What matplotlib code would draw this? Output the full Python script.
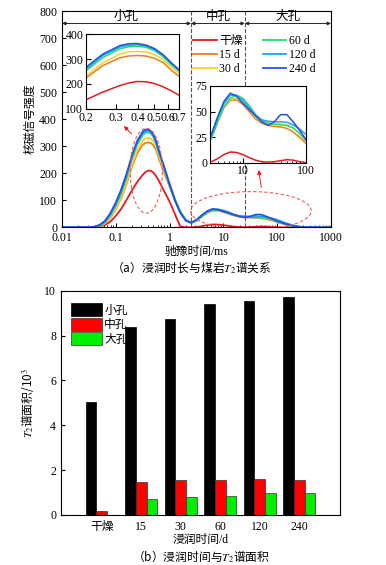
import numpy as np
import matplotlib
matplotlib.use('Agg')
import matplotlib.pyplot as plt
from matplotlib.ticker import NullFormatter, FixedLocator

plt.rcParams['font.family'] = ['Liberation Serif', 'Noto Sans CJK SC']
plt.rcParams['mathtext.fontset'] = 'stix'
plt.rcParams['font.size'] = 8.5
plt.rcParams['axes.linewidth'] = 0.8

# ---- (a) T2 spectra ----
t2_ms = [0.01, 0.032, 0.04, 0.05, 0.063, 0.079, 0.1, 0.126, 0.158, 0.2,
         0.251, 0.316, 0.355, 0.398, 0.447, 0.501, 0.562, 0.631, 0.794, 1.0,
         1.26, 1.58, 2.0, 2.51, 3.16, 3.98, 5.01, 6.31, 7.94, 10.0,
         12.6, 15.8, 20.0, 25.1, 31.6, 39.8, 50.1, 63.1, 79.4, 100,
         126, 158, 200, 251, 316, 398, 1000]

amp_dry = [0, 0, 0, 3, 9, 21, 42, 68, 101, 137,
           168, 194, 204, 210, 209, 202, 189, 172, 133, 95,
           48, 3, 0, 0, 1, 4, 8, 10.5, 10, 8,
           5, 2.5, 1, 0.5, 1, 2, 3, 2.5, 1, 0,
           0, 0, 0, 0, 0, 0, 0]
amp_15d = [0, 0, 1, 5, 14, 35, 67, 108, 160, 224,
           274, 305, 312, 314, 312, 303, 286, 254, 202, 150,
           97, 54, 26, 16, 24, 40, 54, 61, 61.5, 57,
           50, 43, 38.5, 36.5, 35.5, 35, 33.5, 30, 25, 19,
           13, 8, 4, 1.5, 0.5, 0, 0]
amp_30d = [0, 0, 1, 5, 15, 37, 70, 113, 166, 231,
           285, 320, 329, 331, 328, 318, 299, 266, 212, 156,
           101, 56, 27, 16, 25, 41, 55, 62, 63, 59,
           52, 45, 41, 39, 38.5, 38, 37, 34, 28, 21,
           14, 8, 4, 1.5, 0.5, 0, 0]
amp_60d = [0, 0, 1, 6, 18, 43, 80, 126, 183, 253,
           306, 341, 349, 351, 347, 334, 310, 276, 220, 161,
           103, 58, 28, 17, 24, 40, 55, 63, 66, 63,
           56, 47, 41, 38.5, 37.5, 37, 36.5, 34, 29, 22,
           15, 9, 5, 2, 0.5, 0, 0]
amp_120d = [0, 0, 1, 7, 20, 47, 85, 132, 190, 260,
            314, 348, 355, 357, 352, 338, 315, 282, 222, 159,
            101, 56, 27, 17, 26, 44, 58, 66, 66, 61,
            54, 47, 42, 40.5, 40, 40, 39.5, 37, 33, 28,
            20, 13, 7, 3, 1, 0, 0]
amp_240d = [0, 0, 2, 9, 24, 52, 92, 140, 197, 267,
            320, 354, 361, 362, 356, 342, 318, 284, 222, 158,
            99, 54, 24, 17, 28, 45, 60, 68, 65, 58,
            52, 46, 40, 36.5, 40, 47, 47, 40, 32, 23,
            16, 10, 5, 2, 0.5, 0, 0]

series_names = ['干燥', '15 d', '30 d', '60 d', '120 d', '240 d']
series_vals = [amp_dry, amp_15d, amp_30d, amp_60d, amp_120d, amp_240d]
series_colors = ['#e51a1f', '#ee7d22', '#ffd024', '#22e070', '#17a8ee', '#2450e6']

pore_bounds = [0.01, 2.5, 25, 1000]
pore_names = ['小孔', '中孔', '大孔']

# ---- (b) T2 spectrum areas ----
days = ['干燥', '15', '30', '60', '120', '240']
area_small = [5.03, 8.38, 8.75, 9.40, 9.55, 9.70]
area_mid = [0.17, 1.48, 1.54, 1.55, 1.60, 1.57]
area_large = [0.0, 0.72, 0.82, 0.86, 0.97, 0.99]

# texts mixing CJK and mathtext need a CJK family as their base font
cjk = 'Noto Sans CJK SC'

fig = plt.figure(figsize=(3.86, 5.65), dpi=100)

ax1 = fig.add_axes([0.1606, 0.5977, 0.697, 0.3828])
for name, vals, c in zip(series_names, series_vals, series_colors):
    ax1.plot(t2_ms, vals, color=c, lw=1.3, label=name)
ax1.set_xscale('log')
ax1.set_xlim(0.01, 1000)
ax1.set_ylim(0, 800)
ax1.set_yticks(range(0, 801, 100))
ax1.set_xticks([0.01, 0.1, 1, 10, 100, 1000])
ax1.set_xticklabels(['0.01', '0.1', '1', '10', '100', '1000'])
ax1.tick_params(which='both', direction='in', labelsize=8.5)
ax1.tick_params(which='major', length=3)
ax1.tick_params(which='minor', length=1.5)
ax1.set_xlabel('驰豫时间/ms', fontsize=8.5, labelpad=1)
ax1.set_ylabel('核磁信号强度', fontsize=8.5, labelpad=2)

# pore region dividers and arrows
for b in pore_bounds[1:-1]:
    ax1.axvline(b, color='#555555', ls='--', lw=0.8)
for lo, hi, nm in zip(pore_bounds[:-1], pore_bounds[1:], pore_names):
    ax1.annotate('', xy=(lo, 754), xytext=(hi, 754),
                 arrowprops=dict(arrowstyle='<|-|>', color='#222222', lw=0.7,
                                 mutation_scale=5, shrinkA=0, shrinkB=0))
    ax1.text(np.sqrt(lo * hi), 779, nm, ha='center', va='center', fontsize=9)

# dashed ellipses marking zoomed regions
ang = np.linspace(0, 2 * np.pi, 200)
for lc, hw, yc, hh in [(-0.433, 0.30, 209, 157), (1.512, 1.12, 61, 71)]:
    ax1.plot(10 ** (lc + hw * np.cos(ang)), yc + hh * np.sin(ang),
             ls='--', color='#f05a5a', lw=0.8, dashes=(3, 2))
ax1.annotate('', xy=(0.130, 382), xytext=(0.213, 338),
             arrowprops=dict(arrowstyle='-|>', color='#e51a1f', lw=0.7, mutation_scale=6))
ax1.annotate('', xy=(44.5, 222), xytext=(51.4, 138),
             arrowprops=dict(arrowstyle='-|>', color='#e51a1f', lw=0.7, mutation_scale=6))

ax1.legend(ncol=2, loc='upper left', bbox_to_anchor=(0.47, 0.91), frameon=False,
           fontsize=8.5, handlelength=2.0, handletextpad=0.2, columnspacing=1.7,
           labelspacing=0.15, borderaxespad=0)

# inset 1: main peak
ins1 = fig.add_axes([0.2228, 0.8071, 0.2417, 0.1327])
for vals, c in zip(series_vals, series_colors):
    ins1.plot(t2_ms, vals, color=c, lw=1.1)
ins1.set_xscale('log')
ins1.set_xlim(0.2, 0.7)
ins1.set_ylim(100, 400)
ins1.set_yticks([100, 200, 300, 400])
ins1.xaxis.set_major_locator(FixedLocator([0.2, 0.3, 0.4, 0.5, 0.6, 0.7]))
ins1.set_xticklabels(['0.2', '0.3', '0.4', '0.5', '0.6', '0.7'])
ins1.xaxis.set_minor_formatter(NullFormatter())
ins1.tick_params(which='both', direction='in', labelsize=8.5, pad=2)
ins1.tick_params(which='minor', length=0)

# inset 2: meso/macro pores
ins2 = fig.add_axes([0.544, 0.712, 0.248, 0.1358])
for vals, c in zip(series_vals, series_colors):
    ins2.plot(t2_ms, vals, color=c, lw=1.1)
ins2.set_xscale('log')
ins2.set_xlim(3, 100)
ins2.set_ylim(0, 75)
ins2.set_yticks([0, 25, 50, 75])
ins2.set_xticks([10, 100])
ins2.set_xticklabels(['10', '100'])
ins2.xaxis.set_minor_formatter(NullFormatter())
ins2.tick_params(which='both', direction='in', labelsize=8.5, pad=2)
ins2.tick_params(which='minor', length=1.5)

fig.text(0.497, 0.527, '（a）浸润时长与煤岩$T_2$谱关系', ha='center', va='center',
         fontsize=8.5, family=cjk)

# ---- bottom panel ----
ax2 = fig.add_axes([0.158, 0.0885, 0.7228, 0.397])
x = np.arange(len(days))
w = 0.27
ax2.bar(x - w, area_small, w, color='black', edgecolor='black', lw=0.5, label='小孔')
ax2.bar(x, area_mid, w, color='#ff0000', edgecolor='#333333', lw=0.5, label='中孔')
ax2.bar(x + w, area_large, w, color='#00ee00', edgecolor='#333333', lw=0.5, label='大孔')
ax2.set_xlim(-1.03, len(days) - 1 + 1.03)
ax2.set_ylim(0, 10)
ax2.set_yticks(range(0, 11, 2))
ax2.set_xticks(x)
ax2.set_xticklabels(days)
ax2.tick_params(axis='y', direction='in', length=3, labelsize=8.5)
ax2.tick_params(axis='x', length=0, labelsize=8.5, pad=4)
ax2.set_xlabel('浸润时间/d', fontsize=8.5, labelpad=1)
ax2.set_ylabel('$T_2$谱面积/10$^3$', fontsize=8.5, labelpad=6, family=cjk)
ax2.legend(loc='upper left', bbox_to_anchor=(0.02, 0.965), frameon=False, fontsize=8.5,
           handlelength=2.6, handleheight=1.3, handletextpad=0.2, labelspacing=0.1,
           borderaxespad=0)

fig.text(0.52, 0.016, '（b）浸润时间与$T_2$谱面积', ha='center', va='center',
         fontsize=8.5, family=cjk)

fig.savefig('out.png', dpi=100)
